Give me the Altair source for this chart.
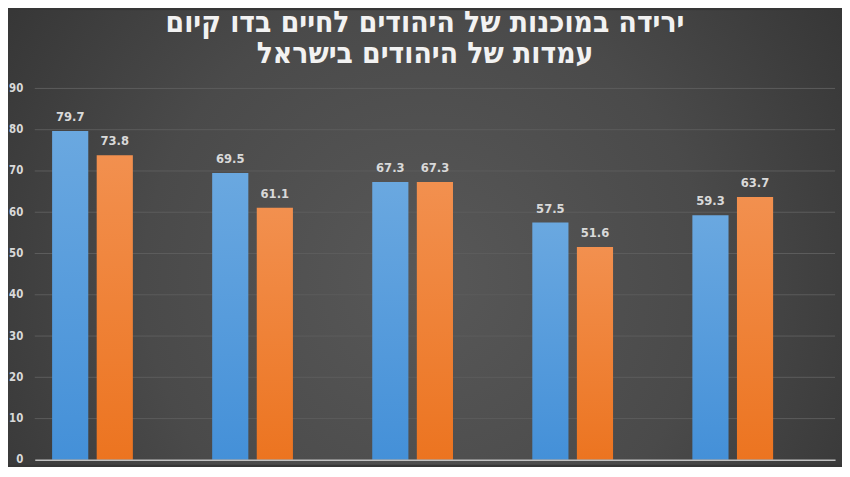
import altair as alt
import pandas as pd

categories = ["1", "2", "3", "4", "5"]
series_names = ["A", "B", "C"]
blue_values = [79.7, 69.5, 67.3, 57.5, 59.3]
orange_values = [73.8, 61.1, 67.3, 51.6, 63.7]
grid_values = [10, 20, 30, 40, 50, 60, 70, 80, 90]
axis_values = [0, 10, 20, 30, 40, 50, 60, 70, 80, 90]
title_lines = [
    "ירידה במוכנות של היהודים לחיים בדו קיום",
    "עמדות של היהודים בישראל",
]

W, H = 808, 375
NARROW = "DejaVu Sans Condensed, DejaVu Sans"

df = pd.DataFrame({
    "category": categories * 2,
    "series": ["A"] * len(categories) + ["B"] * len(categories),
    "value": blue_values + orange_values,
})
grid_df = pd.DataFrame({"value": grid_values})


def linear(top: str, bottom: str) -> dict:
    return {
        "gradient": "linear", "x1": 0, "y1": 0, "x2": 0, "y2": 1,
        "stops": [{"offset": 0, "color": top}, {"offset": 1, "color": bottom}],
    }


vignette = {
    "gradient": "radial", "x1": 0.5, "y1": 0.55, "r1": 0, "x2": 0.5, "y2": 0.55, "r2": 0.75,
    "stops": [
        {"offset": 0, "color": "#585858"},
        {"offset": 0.45, "color": "#4a4a4a"},
        {"offset": 1, "color": "#2b2b2b"},
    ],
}

y_enc = alt.Y(
    "value:Q", title=None, scale=alt.Scale(domain=[0, 90], nice=False),
    axis=alt.Axis(
        values=axis_values, grid=False, domain=False, ticks=False, labelPadding=12, zindex=1,
        labelFont=NARROW, labelFontSize=11.5, labelFontWeight="bold", labelColor="#d9d9d9",
    ),
)

base = alt.Chart(df).encode(
    x=alt.X(
        "category:N", sort=categories, title=None,
        scale=alt.Scale(paddingInner=0.217, paddingOuter=0.1085),
        axis=alt.Axis(labels=False, ticks=False, domainColor="#bfbfbf", domainWidth=1.5, zindex=1),
    ),
    xOffset=alt.XOffset("series:N", scale=alt.Scale(domain=series_names, paddingInner=0.189, paddingOuter=0)),
    y=y_enc,
)

backdrop = alt.Chart(alt.Data(values=[{"bg": 1}])).mark_rect(fill=vignette).encode(
    x=alt.value(-27), x2=alt.value(W + 7), y=alt.value(-79), y2=alt.value(H + 5)
)

grid = alt.Chart(grid_df).mark_rule(color="#5c5c5c", strokeWidth=1).encode(y=y_enc)

bars_blue = base.transform_filter(alt.datum.series == "A").mark_bar(fill=linear("#6aa8e0", "#4490d8"))
bars_orange = base.transform_filter(alt.datum.series == "B").mark_bar(fill=linear("#f2904f", "#ec7420"))

labels = base.mark_text(
    dy=-10, baseline="alphabetic", font=NARROW, fontSize=13, fontWeight="bold", color="#d9d9d9"
).encode(text=alt.Text("value:Q", format=".1f"))

chart = alt.layer(backdrop, grid, bars_blue, bars_orange, labels).properties(
    width=W,
    height=H,
    autosize=alt.AutoSizeParams(type="none"),
    padding={"left": 27, "top": 79, "right": 7, "bottom": 5},
    background="#363636",
    title=alt.TitleParams(
        text=title_lines, anchor="middle", font=NARROW, fontSize=30, fontWeight="bold",
        color="#f2f2f2", lineHeight=31, offset=-59, dx=-10, zindex=1,
    ),
).configure_view(strokeWidth=0)

chart.save("out.html", embed_options={"renderer": "svg", "actions": False})
